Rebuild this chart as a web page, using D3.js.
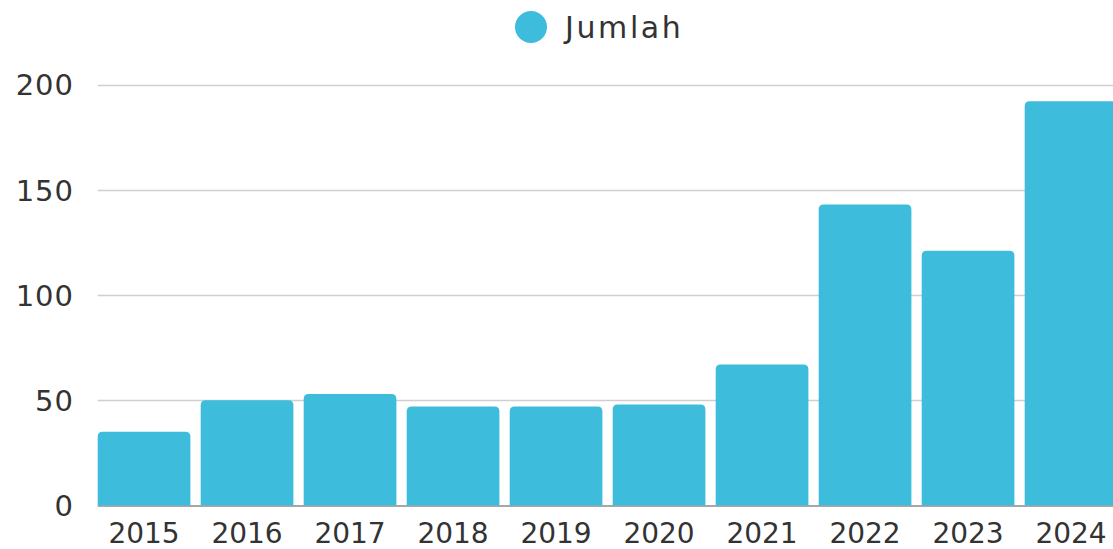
<!DOCTYPE html>
<html>
<head>
<meta charset="utf-8">
<script src="https://cdn.jsdelivr.net/npm/d3@7"></script>
<style>
  html, body { margin: 0; padding: 0; background: #fff; }
  svg { display: block; }
  text { font-family: "DejaVu Sans", sans-serif; fill: #333; }
</style>
</head>
<body>
<svg id="chart" width="1113" height="549"></svg>
<script>
// Jumlah per tahun
const years = ["2015", "2016", "2017", "2018", "2019", "2020", "2021", "2022", "2023", "2024"];
const jumlah = [35, 50, 53, 47, 47, 48, 67, 143, 121, 192];
const yTicks = [0, 50, 100, 150, 200];
const seriesName = "Jumlah";
const barColor = "#3dbcdc";

const svg = d3.select("#chart");
const W = 1113, H = 549;
const plot = { left: 97.7, right: 1117.4, top: 84.5, bottom: 505.5 };

const x = d3.scaleBand()
  .domain(years)
  .range([plot.left, plot.right])
  .paddingInner(0.1)
  .paddingOuter(0);

const y = d3.scaleLinear()
  .domain([0, 200])
  .range([plot.bottom, plot.top]);

// horizontal grid
svg.append("g")
  .selectAll("line")
  .data(yTicks.filter(d => d !== 0))
  .join("line")
  .attr("x1", plot.left)
  .attr("x2", W)
  .attr("y1", d => Math.round(y(d)) + 0.5)
  .attr("y2", d => Math.round(y(d)) + 0.5)
  .attr("stroke", "#cfcfcf")
  .attr("stroke-width", 1.5);

// baseline
svg.append("line")
  .attr("x1", plot.left)
  .attr("x2", W)
  .attr("y1", y(0) + 0.5)
  .attr("y2", y(0) + 0.5)
  .attr("stroke", "#8a8a8a")
  .attr("stroke-width", 1.5);

// bars with rounded top corners
const r = 5;
function barPath(x0, w, yTop, yBase) {
  const rr = Math.min(r, w / 2, (yBase - yTop));
  return `M${x0},${yBase}V${yTop + rr}Q${x0},${yTop} ${x0 + rr},${yTop}` +
    `H${x0 + w - rr}Q${x0 + w},${yTop} ${x0 + w},${yTop + rr}V${yBase}Z`;
}
svg.append("g")
  .selectAll("path")
  .data(years.map((yr, i) => ({ yr, v: jumlah[i] })))
  .join("path")
  .attr("d", d => barPath(x(d.yr), x.bandwidth(), y(d.v), y(0)))
  .attr("fill", barColor);

// y axis labels
const yAxis = d3.axisLeft(y).tickValues(yTicks).tickSize(0).tickPadding(24);
const gy = svg.append("g")
  .attr("transform", `translate(${plot.left},0)`)
  .call(yAxis);
gy.select(".domain").remove();
gy.selectAll("text")
  .attr("x", 74 - plot.left)
  .attr("dy", "0.36em")
  .style("font-size", "29px")
  .style("letter-spacing", "1px")
  .style("font-family", "\"DejaVu Sans\", sans-serif")
  .attr("fill", "#333");

// x axis labels
const xAxis = d3.axisBottom(x).tickSize(0).tickPadding(0);
const gx = svg.append("g")
  .attr("transform", `translate(0,${plot.bottom})`)
  .call(xAxis);
gx.select(".domain").remove();
gx.selectAll("text")
  .attr("y", 37)
  .attr("dy", 0)
  .style("font-size", "28px")
  .style("font-family", "\"DejaVu Sans\", sans-serif")
  .attr("fill", "#333");

// legend
const legend = svg.append("g");
legend.append("circle")
  .attr("cx", 531)
  .attr("cy", 27)
  .attr("r", 16)
  .attr("fill", barColor);
legend.append("text")
  .attr("x", 565)
  .attr("y", 38)
  .style("font-size", "30px")
  .style("letter-spacing", "2.6px")
  .text(seriesName);
</script>
</body>
</html>
